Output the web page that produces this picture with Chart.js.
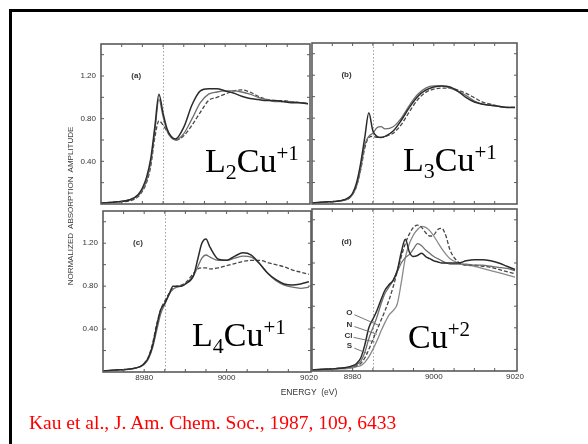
<!DOCTYPE html>
<html>
<head>
<meta charset="utf-8">
<script src="https://cdn.jsdelivr.net/npm/chart.js@4/dist/chart.umd.min.js"></script>
<style>
  html, body { margin: 0; padding: 0; background: #fff; }
  #page { position: relative; width: 588px; height: 444px; overflow: hidden; background: #fff; }
  #page canvas { position: absolute; left: 0; top: 0; }
  .rule-left { position: absolute; left: 9px; top: 9px; width: 3px; height: 440px; background: #000; }
  .rule-top { position: absolute; left: 9px; top: 9px; width: 580px; height: 3px; background: #000; }
  .big { position: absolute; font-family: "Liberation Serif", "Times New Roman", serif; font-size: 34px; line-height: 34px; color: #000; white-space: nowrap; }
  .big .sub { position: relative; top: 7px; font-size: 22px; }
  .big .sup { position: relative; top: -12px; font-size: 21px; }
  .axis-title { position: absolute; font-family: "Liberation Sans", Arial, sans-serif; font-size: 8px; line-height: 8px; color: #333; white-space: nowrap; text-align: center; }
  .cite { position: absolute; left: 29px; top: 413px; font-family: "Liberation Serif", "Times New Roman", serif; font-size: 19.5px; line-height: 19px; color: #ff0000; white-space: nowrap; }
</style>
</head>
<body>
<div id="page">
  <div class="rule-left"></div>
  <div class="rule-top"></div>
  <canvas id="panelA" width="588" height="444"></canvas>
  <canvas id="panelB" width="588" height="444"></canvas>
  <canvas id="panelC" width="588" height="444"></canvas>
  <canvas id="panelD" width="588" height="444"></canvas>

  <div class="big" style="left:205px;top:144px;">L<span class="sub">2</span>Cu<span class="sup">+1</span></div>
  <div class="big" style="left:403px;top:143px;">L<span class="sub">3</span>Cu<span class="sup">+1</span></div>
  <div class="big" style="left:192px;top:318px;">L<span class="sub">4</span>Cu<span class="sup">+1</span></div>
  <div class="big" style="left:408px;top:320px;">Cu<span class="sup">+2</span></div>

  <div class="axis-title" style="left:-29px;top:202px;width:200px;transform:rotate(-90deg);">NORMALIZED&nbsp; ABSORPTION&nbsp; AMPLITUDE</div>
  <div class="axis-title" style="left:259px;top:388px;width:100px;font-size:8.5px;">ENERGY&nbsp; (eV)</div>

  <div class="cite">Kau et al., J. Am. Chem. Soc., 1987, 109, 6433</div>
</div>

<script>
// energy grids (eV)
const energyAB = [8970, 8974, 8977, 8979, 8980, 8981, 8982, 8983, 8984, 8985, 8986, 8987, 8988, 8990, 8992, 8994, 8996, 8998, 9000, 9002, 9004, 9006, 9008, 9010, 9012, 9014, 9016, 9018, 9020];
const energyC = [8970, 8974, 8977, 8979, 8980, 8981, 8982, 8983, 8984, 8985, 8986, 8987, 8988, 8989, 8990, 8992, 8993, 8994, 8995, 8996, 8998, 9000, 9002, 9004, 9006, 9008, 9010, 9012, 9014, 9016, 9018, 9020];
const energyD = [8970, 8975, 8978, 8980, 8981, 8982, 8983, 8984, 8985, 8986, 8987, 8988, 8989, 8990, 8991, 8992, 8993, 8994, 8995, 8996, 8997, 8998, 8999, 9000, 9001, 9002, 9003, 9004, 9006, 9008, 9010, 9012, 9014, 9016, 9018, 9020];

// (a) two-coordinate Cu(I)
const a1 = [0.01, 0.02, 0.04, 0.09, 0.15, 0.25, 0.42, 0.72, 1.03, 0.85, 0.70, 0.63, 0.61, 0.72, 0.93, 1.06, 1.08, 1.08, 1.06, 1.04, 1.01, 0.99, 0.98, 0.97, 0.97, 0.96, 0.95, 0.95, 0.94];
const a2 = [0.01, 0.02, 0.04, 0.08, 0.13, 0.22, 0.38, 0.68, 0.98, 0.82, 0.68, 0.62, 0.60, 0.66, 0.80, 0.95, 1.03, 1.05, 1.06, 1.06, 1.05, 1.03, 1.00, 0.98, 0.96, 0.96, 0.96, 0.95, 0.94];
const a3 = [0.01, 0.02, 0.03, 0.07, 0.12, 0.20, 0.35, 0.62, 0.78, 0.74, 0.68, 0.63, 0.60, 0.64, 0.74, 0.86, 0.97, 1.00, 1.03, 1.06, 1.07, 1.05, 1.01, 0.98, 0.97, 0.97, 0.96, 0.95, 0.94];

// (b) three-coordinate Cu(I)
const b1 = [0.01, 0.02, 0.03, 0.06, 0.10, 0.20, 0.38, 0.62, 0.85, 0.68, 0.63, 0.62, 0.63, 0.68, 0.78, 0.90, 1.00, 1.06, 1.09, 1.10, 1.09, 1.05, 0.99, 0.95, 0.93, 0.92, 0.91, 0.90, 0.90];
const b2 = [0.01, 0.02, 0.03, 0.05, 0.09, 0.17, 0.33, 0.55, 0.63, 0.66, 0.71, 0.72, 0.70, 0.72, 0.80, 0.92, 1.02, 1.08, 1.10, 1.10, 1.08, 1.05, 1.01, 0.96, 0.93, 0.92, 0.91, 0.90, 0.90];
const b3 = [0.01, 0.02, 0.03, 0.05, 0.09, 0.17, 0.32, 0.52, 0.62, 0.63, 0.62, 0.62, 0.63, 0.66, 0.74, 0.86, 0.97, 1.04, 1.07, 1.08, 1.08, 1.06, 1.03, 0.99, 0.95, 0.93, 0.91, 0.90, 0.90];

// (c) four-coordinate Cu(I)
const c1 = [0.01, 0.02, 0.03, 0.05, 0.08, 0.13, 0.24, 0.42, 0.58, 0.64, 0.72, 0.80, 0.80, 0.80, 0.82, 0.90, 1.05, 1.20, 1.24, 1.16, 1.05, 1.04, 1.08, 1.11, 1.09, 1.01, 0.92, 0.86, 0.82, 0.81, 0.82, 0.84];
const c2 = [0.01, 0.02, 0.03, 0.05, 0.07, 0.12, 0.22, 0.38, 0.54, 0.63, 0.72, 0.77, 0.79, 0.80, 0.82, 0.90, 0.98, 1.06, 1.09, 1.07, 1.04, 1.04, 1.06, 1.08, 1.07, 1.01, 0.92, 0.85, 0.81, 0.79, 0.78, 0.79];
const c3 = [0.01, 0.02, 0.03, 0.05, 0.08, 0.14, 0.26, 0.44, 0.58, 0.66, 0.73, 0.78, 0.80, 0.81, 0.83, 0.92, 0.96, 0.97, 0.97, 0.96, 0.97, 0.99, 1.01, 1.03, 1.04, 1.04, 1.02, 1.00, 0.98, 0.95, 0.93, 0.91];

// (d) Cu(II) with O, N, Cl, S ligation
const dO = [0.01, 0.02, 0.03, 0.05, 0.07, 0.12, 0.24, 0.40, 0.48, 0.56, 0.66, 0.75, 0.80, 0.84, 0.93, 1.10, 1.22, 1.10, 1.06, 1.07, 1.09, 1.06, 1.04, 1.02, 1.01, 1.00, 1.00, 1.00, 1.00, 1.02, 1.03, 1.03, 1.02, 1.00, 0.97, 0.94];
const dN = [0.01, 0.02, 0.03, 0.04, 0.06, 0.09, 0.17, 0.30, 0.40, 0.50, 0.62, 0.72, 0.78, 0.84, 0.92, 1.00, 1.05, 1.08, 1.13, 1.18, 1.16, 1.12, 1.09, 1.06, 1.04, 1.02, 1.00, 0.99, 0.99, 0.99, 0.98, 0.98, 0.97, 0.96, 0.95, 0.93];
const dCl = [0.01, 0.02, 0.03, 0.04, 0.05, 0.07, 0.12, 0.20, 0.29, 0.38, 0.47, 0.56, 0.66, 0.78, 0.92, 1.06, 1.18, 1.27, 1.33, 1.35, 1.33, 1.28, 1.25, 1.26, 1.31, 1.32, 1.25, 1.12, 1.01, 0.98, 0.98, 0.97, 0.96, 0.94, 0.92, 0.90];
const dS = [0.01, 0.02, 0.02, 0.03, 0.04, 0.05, 0.08, 0.13, 0.20, 0.28, 0.37, 0.45, 0.52, 0.56, 0.62, 0.82, 1.05, 1.18, 1.26, 1.31, 1.34, 1.33, 1.30, 1.25, 1.19, 1.13, 1.08, 1.04, 1.00, 0.98, 0.97, 0.95, 0.93, 0.91, 0.89, 0.87];

// ligand tags in panel (d): label anchor and leader end, in eV / amplitude
const ligandNames = ["O", "N", "Cl", "S"];
const ligandLabelE = [8979.2, 8979.2, 8979.0, 8979.2];
const ligandLabelV = [0.54, 0.43, 0.33, 0.23];
const leaderEndE = [8986.6, 8986.0, 8985.4, 8983.8];
const leaderEndV = [0.42, 0.34, 0.27, 0.16];

const edgeEnergy = 8985;
const xLabels = [8980, 9000, 9020];
const yLabels = [0.4, 0.8, 1.2];

const lineStyles = [
  { color: "#2b2b2b", width: 1.5, dash: [] },
  { color: "#6e6e6e", width: 1.3, dash: [] },
  { color: "#474747", width: 1.3, dash: [4, 2] },
  { color: "#8a8a8a", width: 1.3, dash: [] },
];

const font = '"Liberation Sans", Arial, sans-serif';

function panelDecor(opts) {
  return {
    id: "panelDecor",
    beforeDatasetsDraw(chart) {
      const { ctx, chartArea: area, scales: { x } } = chart;
      const xe = Math.round(x.getPixelForValue(edgeEnergy)) + 0.5;
      ctx.save();
      ctx.strokeStyle = "#a0a0a0";
      ctx.lineWidth = 1;
      ctx.setLineDash([1.5, 2]);
      ctx.beginPath();
      ctx.moveTo(xe, area.top);
      ctx.lineTo(xe, area.bottom);
      ctx.stroke();
      ctx.restore();
    },
    afterDatasetsDraw(chart) {
      const { ctx, chartArea: area, scales: { x, y } } = chart;
      ctx.save();
      // frame
      ctx.strokeStyle = "#5a5a5a";
      ctx.lineWidth = 1.6;
      ctx.strokeRect(area.left, area.top, area.right - area.left, area.bottom - area.top);

      // inward ticks
      ctx.lineWidth = 1;
      ctx.beginPath();
      for (let e = 8975; e < 9020; e += 5) {
        const px = x.getPixelForValue(e);
        ctx.moveTo(px, area.bottom);
        ctx.lineTo(px, area.bottom - 3);
        ctx.moveTo(px, area.top);
        ctx.lineTo(px, area.top + 3);
      }
      for (let v = 0.2; v < 1.5; v += 0.2) {
        const py = y.getPixelForValue(v);
        ctx.moveTo(area.left, py);
        ctx.lineTo(area.left + 3, py);
        ctx.moveTo(area.right, py);
        ctx.lineTo(area.right - 3, py);
      }
      ctx.stroke();

      ctx.fillStyle = "#333";
      ctx.font = "8px " + font;
      if (opts.yLabels) {
        ctx.textAlign = "right";
        ctx.textBaseline = "middle";
        yLabels.forEach((v) => {
          ctx.fillText(v.toFixed(2), area.left - 5, y.getPixelForValue(v));
        });
      }
      if (opts.xLabels) {
        ctx.textAlign = "center";
        ctx.textBaseline = "top";
        xLabels.forEach((e) => {
          ctx.fillText(String(e), x.getPixelForValue(e), area.bottom + 2);
        });
      }

      // panel letter
      ctx.textAlign = "center";
      ctx.textBaseline = "middle";
      ctx.font = "bold 8px " + font;
      ctx.fillText(opts.letter, x.getPixelForValue(opts.letterE), y.getPixelForValue(1.2));

      if (opts.ligands) {
        ctx.font = "bold 8px " + font;
        ctx.strokeStyle = "#666";
        ctx.lineWidth = 0.9;
        ligandNames.forEach((name, i) => {
          const lx = x.getPixelForValue(ligandLabelE[i]);
          const ly = y.getPixelForValue(ligandLabelV[i]);
          ctx.fillText(name, lx, ly);
          ctx.beginPath();
          ctx.moveTo(lx + 5, ly + 2);
          ctx.lineTo(x.getPixelForValue(leaderEndE[i]), y.getPixelForValue(leaderEndV[i]));
          ctx.stroke();
        });
      }
      ctx.restore();
    },
  };
}

function makePanel(id, box, energy, curves, opts) {
  const datasets = curves.map((values, i) => {
    const s = lineStyles[i];
    return {
      data: energy.map((e, k) => ({ x: e, y: values[k] })),
      borderColor: s.color,
      borderWidth: s.width,
      borderDash: s.dash,
      pointRadius: 0,
      fill: false,
      cubicInterpolationMode: "monotone",
    };
  });
  return new Chart(document.getElementById(id), {
    type: "line",
    data: { datasets },
    options: {
      responsive: false,
      animation: false,
      layout: {
        padding: { left: box[0], top: box[1], right: 588 - box[2], bottom: 444 - box[3] },
      },
      scales: {
        x: { type: "linear", min: 8970, max: 9020.5, display: false },
        y: { min: 0, max: 1.5, display: false },
      },
      plugins: { legend: { display: false }, tooltip: { enabled: false } },
    },
    plugins: [panelDecor(opts)],
  });
}

makePanel("panelA", [101, 44, 310, 204], energyAB, [a1, a2, a3], { letter: "(a)", letterE: 8978.5, yLabels: true });
makePanel("panelB", [312, 43, 517, 204], energyAB, [b1, b2, b3], { letter: "(b)", letterE: 8978.5 });
makePanel("panelC", [103, 211, 311, 372], energyC, [c1, c2, c3], { letter: "(c)", letterE: 8978.5, yLabels: true, xLabels: true });
makePanel("panelD", [312, 209, 517, 371], energyD, [dO, dN, dCl, dS], { letter: "(d)", letterE: 8978.5, xLabels: true, ligands: true });
</script>
</body>
</html>
